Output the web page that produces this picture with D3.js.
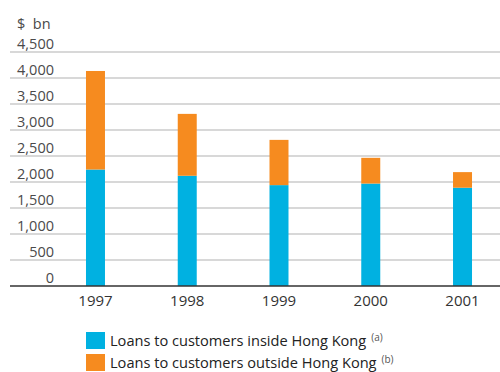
<!DOCTYPE html>
<html>
<head>
<meta charset="utf-8">
<script src="https://cdn.jsdelivr.net/npm/d3@7"></script>
<style>
  html, body { margin: 0; padding: 0; background: #fff; }
  svg { display: block; font-family: "Open Sans", "DejaVu Sans", sans-serif; }
</style>
</head>
<body>
<div id="chart"></div>
<script>
// Loans by location of customer, $ bn
const years = ["1997", "1998", "1999", "2000", "2001"];
const insideHK = [2240, 2120, 1940, 1970, 1890];
const outsideHK = [1895, 1190, 870, 495, 300];
const yTicks = [0, 500, 1000, 1500, 2000, 2500, 3000, 3500, 4000, 4500];
const seriesNames = ["Loans to customers inside Hong Kong", "Loans to customers outside Hong Kong"];
const seriesNotes = ["(a)", "(b)"];
const colors = ["#00b1e1", "#f68b1f"];

const W = 500, H = 372;
const svg = d3.select("#chart").append("svg").attr("width", W).attr("height", H);

const y = d3.scaleLinear().domain([0, 4500]).range([286, 52]);
const x = d3.scaleBand().domain(years).range([49.6, 508.4]).paddingInner(0.793).paddingOuter(0.3965);

// gridlines
svg.append("g").selectAll("line").data(yTicks.filter(d => d > 0)).join("line")
  .attr("x1", 10).attr("x2", W)
  .attr("y1", d => y(d)).attr("y2", d => y(d))
  .attr("stroke", "#cbcbcb").attr("stroke-width", 1.5);

// y labels
svg.append("g").selectAll("text").data(yTicks).join("text")
  .attr("x", 54).attr("y", d => y(d) - 3)
  .attr("text-anchor", "end")
  .attr("font-size", 14.5).attr("fill", "#4a4a4a")
  .text(d => d3.format(",")(d));

svg.append("text").attr("x", 17).attr("y", 29)
  .attr("font-size", 14.5).attr("fill", "#4a4a4a")
  .attr("xml:space", "preserve").text("$  bn");

// stacked bars
const stackData = years.map((yr, i) => ({ year: yr, inside: insideHK[i], outside: outsideHK[i] }));
const stacked = d3.stack().keys(["inside", "outside"])(stackData);
svg.append("g").selectAll("g").data(stacked).join("g")
  .attr("fill", (d, i) => colors[i])
  .selectAll("rect").data(d => d).join("rect")
  .attr("x", d => x(d.data.year))
  .attr("width", x.bandwidth())
  .attr("y", d => y(d[1]))
  .attr("height", d => y(d[0]) - y(d[1]));

// baseline
svg.append("line").attr("x1", 10).attr("x2", W)
  .attr("y1", y(0)).attr("y2", y(0))
  .attr("stroke", "#333").attr("stroke-width", 1.5);

// x labels
svg.append("g").selectAll("text").data(years).join("text")
  .attr("x", d => x(d) + x.bandwidth() / 2).attr("y", 306)
  .attr("text-anchor", "middle")
  .attr("font-size", 15).attr("fill", "#333")
  .text(d => d);

// legend
const leg = svg.append("g").selectAll("g").data(seriesNames).join("g")
  .attr("transform", (d, i) => `translate(86, ${332 + i * 22})`);
leg.append("rect").attr("width", 19).attr("height", 17).attr("fill", (d, i) => colors[i]);
const lt = leg.append("text").attr("x", 24).attr("y", 14)
  .attr("font-size", 14.6).attr("fill", "#222");
lt.append("tspan").text(d => d);
lt.append("tspan").attr("dx", 5).attr("dy", -5).attr("font-size", 10).attr("fill", "#555")
  .text((d, i) => seriesNotes[i]);
</script>
</body>
</html>
